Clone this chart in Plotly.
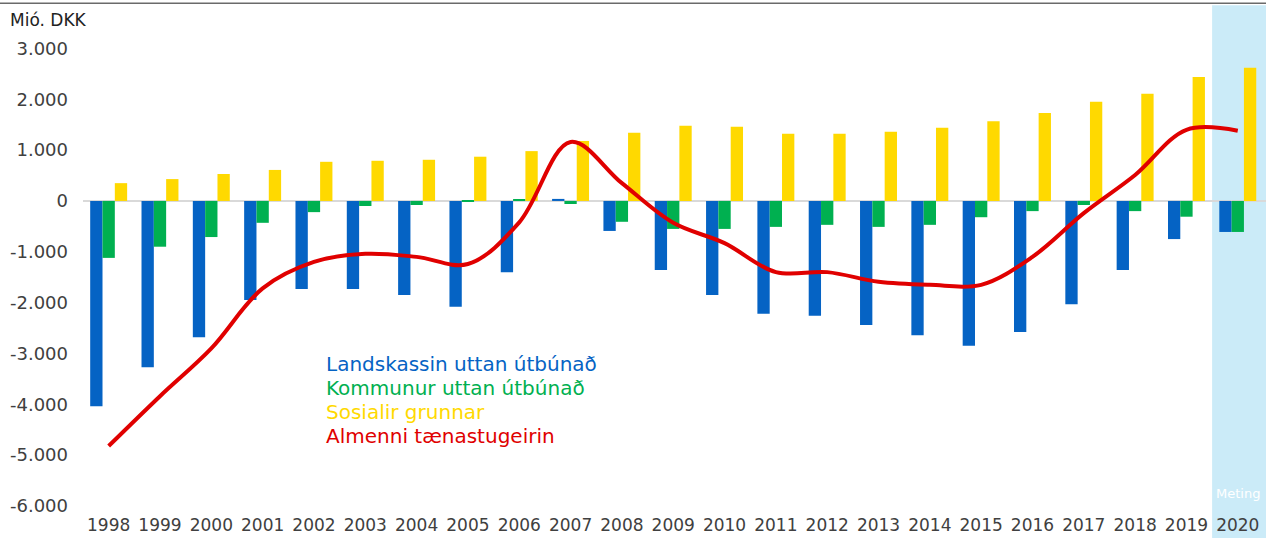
import plotly.graph_objects as go

years = [str(y) for y in range(1998, 2021)]
landskassin = [-4040, -3270, -2680, -1950, -1730, -1730, -1850, -2080, -1400, 40,
               -590, -1360, -1850, -2220, -2260, -2440, -2640, -2850, -2580, -2030,
               -1360, -750, -610]
kommunur = [-1120, -900, -710, -430, -220, -100, -80, -10, 30, -60,
            -410, -550, -550, -510, -470, -510, -470, -320, -200, -80,
            -200, -310, -610]
sosialir = [350, 430, 530, 610, 770, 790, 810, 870, 980, 1180,
            1340, 1480, 1460, 1320, 1320, 1360, 1440, 1570, 1730, 1950,
            2110, 2440, 2620]
almenni = [-4820, -3840, -2900, -1720, -1200, -1040, -1100, -1240, -420, 1160,
           350, -430, -830, -1400, -1400, -1590, -1650, -1650, -1100, -240,
           510, 1400, 1380]

names = ["Landskassin uttan útbúnað", "Kommunur uttan útbúnað",
         "Sosialir grunnar", "Almenni tænastugeirin"]
colors = ["#0563C4", "#00B050", "#FFD900", "#E00000"]

ytickvals = [3000, 2000, 1000, 0, -1000, -2000, -3000, -4000, -5000, -6000]
yticktext = ["3.000", "2.000", "1.000", "0", "-1.000", "-2.000", "-3.000",
             "-4.000", "-5.000", "-6.000"]
unit_label = "Mió. DKK"
estimate_label = "Meting"
estimate_year = "2020"

FONT = "DejaVu Sans"
TXT = "#404040"

fig = go.Figure()
for vals, nm, col in zip([landskassin, kommunur, sosialir], names[:3], colors[:3]):
    fig.add_trace(go.Bar(x=years, y=vals, name=nm, marker_color=col,
                         marker_line_width=0, showlegend=False, hoverinfo="skip"))
fig.add_trace(go.Scatter(x=years, y=almenni, name=names[3], mode="lines",
                         line=dict(color=colors[3], width=4, shape="spline", smoothing=1.0),
                         showlegend=False, hoverinfo="skip"))

idx = years.index(estimate_year)
fig.add_shape(type="rect", xref="x", yref="paper", x0=idx - 0.5, x1=idx + 0.55,
              y0=-0.07, y1=1.037, fillcolor="#CBEBF8", line_width=0, layer="below")
fig.add_shape(type="line", xref="paper", yref="paper", x0=-0.08, x1=1.0,
              y0=1.041, y1=1.041, line=dict(color="#6a6a6a", width=1.5))

fig.add_annotation(text=estimate_label, xref="x", yref="y", x=idx, y=-5750,
                   showarrow=False, font=dict(family=FONT, size=13, color="white"))
fig.add_annotation(text=unit_label, xref="paper", yref="paper", x=-0.063, y=1.007,
                   xanchor="left", yanchor="middle", showarrow=False,
                   font=dict(family=FONT, size=17, color="#222222"))

for i, (nm, col) in enumerate(zip(names, colors)):
    fig.add_annotation(text=nm, xref="x", yref="y", x=4.2, y=-3200 - i * 475,
                       xanchor="left", yanchor="middle", showarrow=False,
                       font=dict(family=FONT, size=20, color=col))

fig.update_layout(
    width=1266, height=538,
    margin=dict(l=83, r=0, t=23, b=32),
    paper_bgcolor="white", plot_bgcolor="rgba(0,0,0,0)",
    barmode="group", bargap=0.28, bargroupgap=0,
    font=dict(family=FONT, size=17, color=TXT),
    xaxis=dict(showgrid=False, showline=False, ticks="", ticklabelstandoff=7,
               tickfont=dict(size=17, color=TXT)),
    yaxis=dict(range=[-6000, 3500], tickvals=ytickvals, ticktext=yticktext,
               showgrid=False, zeroline=True, zerolinecolor="#d9d9d9", zerolinewidth=1.5,
               showline=False, ticks="", ticklabelstandoff=14,
               tickfont=dict(size=18, color=TXT)),
)

fig.write_html("out.html", config={"displayModeBar": False},
               post_script="document.body.style.margin='0';document.body.style.overflow='hidden';")
